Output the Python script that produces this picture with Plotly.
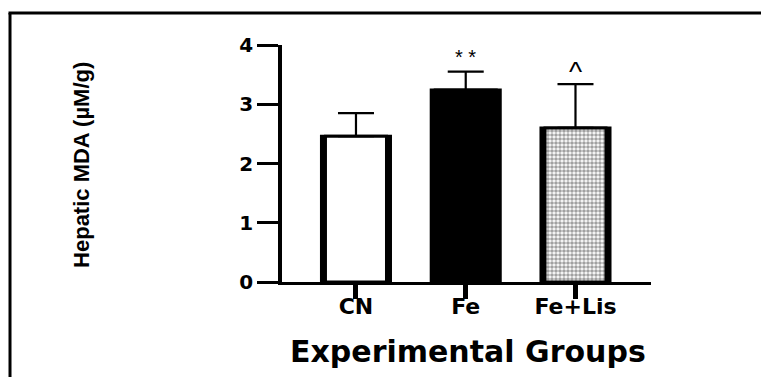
import plotly.graph_objects as go

groups = ["CN", "Fe", "Fe+Lis"]
means = [2.46, 3.24, 2.60]
sd = [0.39, 0.31, 0.74]
zeros = [0, 0, 0]
sig_labels = ["", "* *", "^"]
sig_y = [None, 3.80, 3.55]
sig_sizes = [18, 20, 28]

inner_colors = ["white", "black", "white"]
pattern_shapes = ["", "", "."]

fig = go.Figure()
# outer black shell (thick side walls)
fig.add_trace(go.Bar(
    x=groups, y=means, width=0.629,
    marker=dict(color="black", line=dict(color="black", width=3)),
    hoverinfo="skip",
))
# inner fill with thin black top edge + error bars
fig.add_trace(go.Bar(
    x=groups, y=means, width=0.556,
    marker=dict(
        color=inner_colors,
        line=dict(color="black", width=3),
        pattern=dict(shape=pattern_shapes, fgcolor="#5a5a5a", bgcolor="white",
                     size=4, solidity=0.65, fillmode="overlay"),
    ),
    error_y=dict(type="data", symmetric=False, array=sd, arrayminus=zeros,
                 color="black", thickness=2.2, width=18),
))

for g, lab, yy, fs in zip(groups, sig_labels, sig_y, sig_sizes):
    if lab:
        fig.add_annotation(x=g, y=yy, text=lab, showarrow=False,
                           xref="x", yref="y", yanchor="middle",
                           font=dict(family="Liberation Sans, Arial", size=fs, color="black"))

# axis titles
fig.add_annotation(x=-0.542, y=0.494, xref="paper", yref="paper", text="Hepatic MDA (µM/g)",
                   textangle=-90, showarrow=False, xanchor="center", yanchor="middle",
                   font=dict(family="Liberation Sans, Arial", size=22,
                             color="black", weight="bold"))
fig.add_annotation(x=0.504, y=-0.295, xref="paper", yref="paper", text="Experimental Groups",
                   showarrow=False, xanchor="center", yanchor="middle",
                   font=dict(family="DejaVu Sans", size=30, color="black", weight="bold"))

# outer frame (left and top edges)
fig.add_shape(type="line", xref="paper", yref="paper", x0=-0.7371, x1=-0.7371, y0=1.135, y1=-0.45,
              line=dict(color="black", width=3))
fig.add_shape(type="line", xref="paper", yref="paper", x0=-0.7412, x1=1.35, y0=1.135, y1=1.135,
              line=dict(color="black", width=3))

fig.update_layout(
    width=761, height=369,
    margin=dict(l=274, r=118, t=37, b=95),
    paper_bgcolor="white", plot_bgcolor="white",
    barmode="overlay", showlegend=False,
    xaxis=dict(type="category", range=[-0.674, 2.688], showline=True, linecolor="black",
               linewidth=2.5, ticks="outside", ticklen=14, tickwidth=4.5, tickcolor="black",
               showgrid=False, zeroline=False, ticklabelstandoff=-11,
               tickfont=dict(family="DejaVu Sans", size=22, color="black", weight="bold")),
    yaxis=dict(range=[0, 4], tickvals=[0, 1, 2, 3, 4], showline=True, linecolor="black",
               linewidth=3.5, ticks="outside", ticklen=21, tickwidth=3, tickcolor="black",
               showgrid=False, zeroline=False,
               tickfont=dict(family="DejaVu Sans", size=20, color="black", weight="bold")),
)

fig.write_html("out.html")
